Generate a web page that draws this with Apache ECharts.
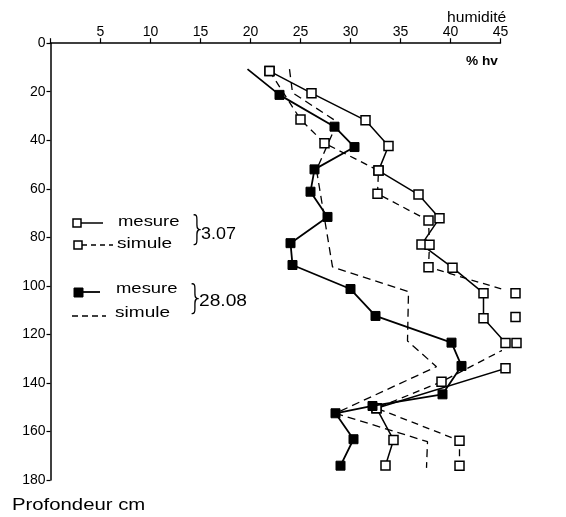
<!DOCTYPE html>
<html><head><meta charset="utf-8">
<script src="https://cdn.jsdelivr.net/npm/echarts@6/dist/echarts.min.js"></script>
<style>html,body{margin:0;padding:0;background:#fff}#c{width:566px;height:517px}</style>
</head><body><div id="c"></div>
<script>
// axis ticks
const xTickStep = 5, xMin = 0, xMax = 45;
const yTickStep = 20, yMin = 0, yMax = 180;

// 3.07 mesure (open squares, solid)
const m307Depth = [11.5, 20.6, 31.8, 42.4, 52.5, 62.4, 72.1, 83.0, 92.5, 103.0, 113.3, 123.5, 134.0, 150.4, 163.5, 174.0];
const m307Val   = [21.9, 26.1, 31.5, 33.8, 32.8, 36.8, 38.9, 37.1, 40.2, 43.3, 43.3, 45.5, 45.5, 32.6, 34.3, 33.5];

// 3.07 simule (open squares, dashed)
const s307Depth = [11.5, 31.4, 41.2, 52.5, 62.0, 73.1, 83.1, 92.3, 103.0, 112.8, 123.5, 139.5, 150.4, 163.8, 174.1];
const s307Val   = [21.9, 25.0, 27.4, 32.8, 32.7, 37.8, 37.9, 37.8, 46.5, 46.5, 46.6, 39.1, 32.6, 40.9, 40.9];

// 28.08 mesure (filled squares, solid) - first point is surface start without marker
const m2808Depth = [10.7, 21.3, 34.4, 42.8, 52.0, 61.2, 71.6, 82.4, 91.4, 101.3, 112.4, 123.4, 133.0, 144.7, 149.5, 152.5, 163.2, 174.1];
const m2808Val   = [19.7, 22.9, 28.4, 30.4, 26.4, 26.0, 27.7, 24.0, 24.2, 30.0, 32.5, 40.1, 41.1, 39.2, 32.2, 28.5, 30.3, 29.0];

// 28.08 simule (dashed, no markers)
const s2808Depth = [10.7, 20.4, 32.5, 52.2, 92.2, 102.4, 122.7, 133.3, 152.5, 164.2, 175.0];
const s2808Val   = [23.9, 24.2, 28.7, 26.6, 28.2, 35.8, 35.7, 38.6, 28.5, 37.7, 37.6];

const pairs = (v, d) => v.map((x, i) => [x, d[i]]);
const FONT = 'Liberation Sans';
const openSq = {color: '#fff', borderColor: '#000', borderWidth: 1.5};
const fillSq = {color: '#000', borderColor: '#000', borderWidth: 1};

const chart = echarts.init(document.getElementById('c'), null, {renderer: 'canvas'});
const m2808Data = pairs(m2808Val, m2808Depth).map((p, i) => i === 0 ? {value: p, symbol: 'none'} : p);

function txt(x, y, text, size, sx, weight, family) {
  return {type: 'text', x: x, y: y, scaleX: sx || 1, originX: 0, originY: 0,
    style: {text: text, font: (weight || 'normal') + ' ' + size + 'px ' + (family || '"Liberation Sans"'), fill: '#000',
      align: 'left', verticalAlign: 'top'}};
}

chart.setOption({
  animation: false,
  backgroundColor: '#fff',
  grid: {left: 50.5, top: 43.2, width: 450, height: 436.8, containLabel: false},
  xAxis: {
    type: 'value', position: 'top', min: xMin, max: xMax, interval: xTickStep,
    axisLine: {show: true, onZero: false, lineStyle: {color: '#000', width: 1.5}},
    axisTick: {show: true, inside: false, length: 5, lineStyle: {color: '#000', width: 1.2}},
    axisLabel: {color: '#000', fontFamily: FONT, fontSize: 14, margin: 4,
      formatter: v => v === 0 ? '' : String(v)},
    splitLine: {show: false}
  },
  yAxis: {
    type: 'value', inverse: true, min: yMin, max: yMax, interval: yTickStep,
    axisLine: {show: true, onZero: false, lineStyle: {color: '#000', width: 1.5}},
    axisTick: {show: true, length: 4, lineStyle: {color: '#000', width: 1.2}},
    axisLabel: {color: '#000', fontFamily: FONT, fontSize: 14, margin: 5},
    splitLine: {show: false}
  },
  series: [
    {name: '3.07 mesure', type: 'line', clip: false, data: pairs(m307Val, m307Depth),
     symbol: 'rect', symbolSize: 9, itemStyle: openSq,
     lineStyle: {color: '#000', width: 1.5}, z: 3},
    {name: '3.07 simule', type: 'line', clip: false, data: pairs(s307Val, s307Depth),
     symbol: 'rect', symbolSize: 9, itemStyle: openSq,
     lineStyle: {color: '#000', width: 1.3, type: [7, 5]}, z: 3},
    {name: '28.08 mesure', type: 'line', clip: false, data: m2808Data,
     symbol: 'rect', symbolSize: 9, itemStyle: fillSq,
     lineStyle: {color: '#000', width: 1.8}, z: 4},
    {name: '28.08 simule', type: 'line', clip: false, data: pairs(s2808Val, s2808Depth),
     symbol: 'none', lineStyle: {color: '#000', width: 1.3, type: [8, 5]}, z: 2}
  ],
  graphic: [
    txt(447, 11, 'humidité', 14, 1.12),
    txt(466, 55, '% hv', 13, 1.05, 'bold'),
    txt(12, 498, 'Profondeur cm', 16, 1.27),
    // legend 3.07
    {type: 'line', shape: {x1: 81, y1: 223, x2: 103, y2: 223}, style: {stroke: '#000', lineWidth: 1.5}},
    {type: 'rect', shape: {x: 73, y: 219, width: 8, height: 8}, style: {fill: '#fff', stroke: '#000', lineWidth: 1.5}},
    txt(118, 214, 'mesure', 15, 1.23),
    {type: 'line', shape: {x1: 82, y1: 245, x2: 113, y2: 245}, style: {stroke: '#000', lineWidth: 1.5, lineDash: [5, 4]}},
    {type: 'rect', shape: {x: 74, y: 241, width: 8, height: 8}, style: {fill: '#fff', stroke: '#000', lineWidth: 1.5}},
    txt(117, 236, 'simule', 15, 1.27),
    txt(189, 214, '}', 34, 0.8, '200', '"DejaVu Sans"'),
    txt(201, 227, '3.07', 16, 1.12),
    // legend 28.08
    {type: 'line', shape: {x1: 80, y1: 292, x2: 100, y2: 292}, style: {stroke: '#000', lineWidth: 1.8}},
    {type: 'rect', shape: {x: 74, y: 288, width: 9, height: 9}, style: {fill: '#000', stroke: '#000', lineWidth: 1}},
    txt(116, 281, 'mesure', 15, 1.23),
    {type: 'line', shape: {x1: 72, y1: 316, x2: 106, y2: 316}, style: {stroke: '#000', lineWidth: 1.5, lineDash: [6, 4]}},
    txt(115, 305, 'simule', 15, 1.27),
    txt(187, 283, '}', 34, 0.8, '200', '"DejaVu Sans"'),
    txt(199, 294, '28.08', 16, 1.2)
  ]
});
</script></body></html>
